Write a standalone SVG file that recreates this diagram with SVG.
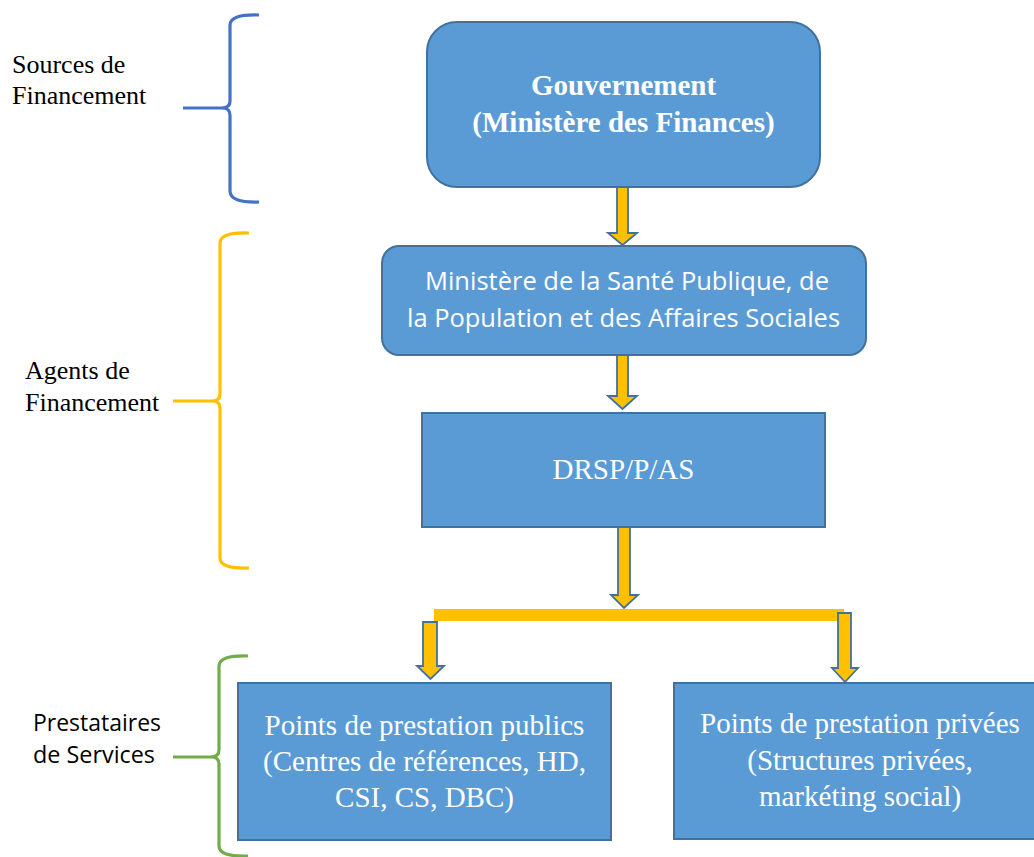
<svg xmlns="http://www.w3.org/2000/svg" width="1034" height="857" viewBox="0 0 1034 857">
<style>
.box{fill:#5B9BD5;stroke:#41719C;stroke-width:2}
.arrow{fill:#FFC000;stroke:#41719C;stroke-width:1.8;stroke-linejoin:miter}
.brace{fill:none;stroke-width:3.2;stroke-linecap:butt}
.serifW{font-family:"Liberation Serif","Times New Roman",serif;fill:#FFFFFF;text-anchor:middle}
.sansW{font-family:"Open Sans","Noto Sans","Liberation Sans",sans-serif;fill:#FFFFFF;text-anchor:middle}
.lbl{font-family:"Liberation Serif","Times New Roman",serif;fill:#000000;font-size:26px}
.lblS{font-family:"Open Sans","Noto Sans","Liberation Sans",sans-serif;fill:#000000;font-size:23px}
</style>
<rect x="0" y="0" width="1034" height="857" fill="#FFFFFF"/>

<g id="labels">
  <g id="label-sources">
    <text class="lbl" x="12" y="73">Sources de</text>
    <text class="lbl" x="12" y="104">Financement</text>
    <path class="brace" stroke="#4472C4" d="M259,15 Q230,14 230,25 L230,101 Q230,108 222,108 L183,108 M222,108 Q230,108 230,115 L230,191 Q230,203 259,202"/>
  </g>
  <g id="label-agents">
    <text class="lbl" x="25" y="379">Agents de</text>
    <text class="lbl" x="25" y="411">Financement</text>
    <path class="brace" stroke="#FFC000" d="M249,233 Q220,232 220,243 L220,394 Q220,401 212,401 L173,401 M212,401 Q220,401 220,408 L220,558 Q220,569 249,568"/>
  </g>
  <g id="label-prestataires">
    <text class="lblS" x="33" y="731" textLength="128" lengthAdjust="spacingAndGlyphs">Prestataires</text>
    <text class="lblS" x="33" y="763" textLength="122" lengthAdjust="spacingAndGlyphs">de Services</text>
    <path class="brace" stroke="#70AD47" d="M248,656 Q219,655 219,666 L219,750 Q219,757 211,757 L173,757 M211,757 Q219,757 219,764 L219,846 Q219,857 248,856"/>
  </g>
</g>

<g id="connectors">
  <polygon class="arrow" points="617,187 628,187 628,233 637,233 622.5,245 608,233 617,233"/>
  <polygon class="arrow" points="617,355 628,355 628,396 637,396 622.5,409 608,396 617,396"/>
  <polygon class="arrow" points="618,527 630,527 630,595 638,595 624,608 611,595 618,595"/>
  <rect x="434" y="609" width="410" height="12" fill="#FFC000"/>
  <polygon class="arrow" points="423,622 437,622 437,666 444,666 430.5,679 417,666 423,666"/>
  <polygon class="arrow" points="838,613 851,613 851,668 858,668 845,682 832,668 838,668"/>
</g>

<g id="node-gouvernement">
  <rect class="box" x="427" y="22" width="393" height="165" rx="30" ry="30"/>
  <text class="serifW" x="623.5" y="95" font-size="29" font-weight="bold">Gouvernement</text>
  <text class="serifW" x="623.5" y="132" font-size="29" font-weight="bold">(Ministère des Finances)</text>
</g>

<g id="node-ministere-sante">
  <rect class="box" x="382" y="246" width="484" height="109" rx="17" ry="17"/>
  <text class="sansW" x="627" y="290" font-size="25" textLength="404" lengthAdjust="spacingAndGlyphs">Ministère de la Santé Publique, de</text>
  <text class="sansW" x="623.5" y="327" font-size="25" textLength="433" lengthAdjust="spacingAndGlyphs">la Population et des Affaires Sociales</text>
</g>

<g id="node-drsp">
  <rect class="box" x="422" y="413" width="403" height="114"/>
  <text class="serifW" x="623.5" y="479" font-size="29">DRSP/P/AS</text>
</g>

<g id="node-publics">
  <rect class="box" x="238" y="683" width="373" height="157"/>
  <text class="serifW" x="424.5" y="735" font-size="29">Points de prestation publics</text>
  <text class="serifW" x="424.5" y="771" font-size="29">(Centres de références, HD,</text>
  <text class="serifW" x="424.5" y="807" font-size="29">CSI, CS, DBC)</text>
</g>

<g id="node-privees">
  <rect class="box" x="674" y="683" width="372" height="156"/>
  <text class="serifW" x="860" y="733" font-size="29">Points de prestation privées</text>
  <text class="serifW" x="860" y="770" font-size="29">(Structures privées,</text>
  <text class="serifW" x="860" y="806" font-size="29">markéting social)</text>
</g>
</svg>
